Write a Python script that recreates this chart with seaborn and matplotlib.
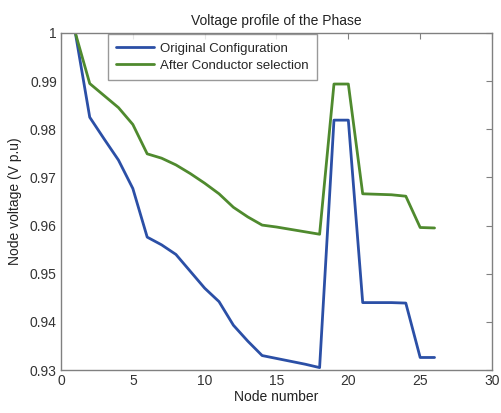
import numpy as np
import pandas as pd
import matplotlib
matplotlib.use('Agg')
import matplotlib.pyplot as plt
import seaborn as sns

# 読み取った値
nodes = list(range(1, 27))
original = [1.0, 0.9825, 0.978, 0.9736, 0.9677, 0.9576, 0.956, 0.954, 0.9505, 0.947,
            0.9442, 0.9393, 0.936, 0.933, 0.9324, 0.9318, 0.9312, 0.9305, 0.9819, 0.9819,
            0.944, 0.944, 0.944, 0.9439, 0.9326, 0.9326]
after = [1.0, 0.9895, 0.987, 0.9845, 0.981, 0.9749, 0.974, 0.9726, 0.9708, 0.9688,
         0.9666, 0.9638, 0.9618, 0.9601, 0.9597, 0.9592, 0.9587, 0.9582, 0.9894, 0.9894,
         0.9666, 0.9665, 0.9664, 0.9661, 0.9596, 0.9595]
series_names = ['Original Configuration', 'After Conductor selection']
x_ticks = [0, 5, 10, 15, 20, 25, 30]
y_ticks = [0.93, 0.94, 0.95, 0.96, 0.97, 0.98, 0.99, 1.0]
y_labels = ['0.93', '0.94', '0.95', '0.96', '0.97', '0.98', '0.99', '1']

df = pd.DataFrame({
    'node': nodes * 2,
    'voltage': original + after,
    'series': [series_names[0]] * len(nodes) + [series_names[1]] * len(nodes),
})

sns.set_theme(style='white')
plt.rcParams['font.family'] = ['Liberation Sans', 'DejaVu Sans']

fig = plt.figure(figsize=(5.02, 4.13), dpi=100)
ax = fig.add_axes([61 / 502, 1 - 370 / 413, (492 - 61) / 502, (370 - 33) / 413])

palette = {series_names[0]: '#2b4fa6', series_names[1]: '#4f8a2e'}
sns.lineplot(data=df, x='node', y='voltage', hue='series', palette=palette,
             linewidth=2.0, ax=ax)

ax.set_xlim(0, 30)
ax.set_ylim(0.93, 1.0)
ax.set_xticks(x_ticks)
ax.set_yticks(y_ticks)
ax.set_yticklabels(y_labels)
ax.tick_params(direction='in', length=4, width=0.8, color='#808080',
               top=True, right=True, labelsize=10, labelcolor='#333333', pad=3)
for sp in ax.spines.values():
    sp.set_color('#808080')
    sp.set_linewidth(1.0)

ax.set_xlabel('Node number', fontsize=10, color='#222222', labelpad=1)
ax.set_ylabel('Node voltage (V p.u)', fontsize=10, color='#222222', labelpad=6)
ax.set_title('Voltage profile of the Phase', fontsize=10, color='#222222', pad=6)

# 凡例
leg = ax.legend(loc='upper left', bbox_to_anchor=(0.109, 0.996), fontsize=9.5,
                frameon=True, fancybox=False, borderpad=0.6, handlelength=2.9,
                labelspacing=0.4, handletextpad=0.45, borderaxespad=0)
leg.get_frame().set_edgecolor('#808080')
leg.get_frame().set_linewidth(1.0)

fig.savefig('out.png', dpi=100)
